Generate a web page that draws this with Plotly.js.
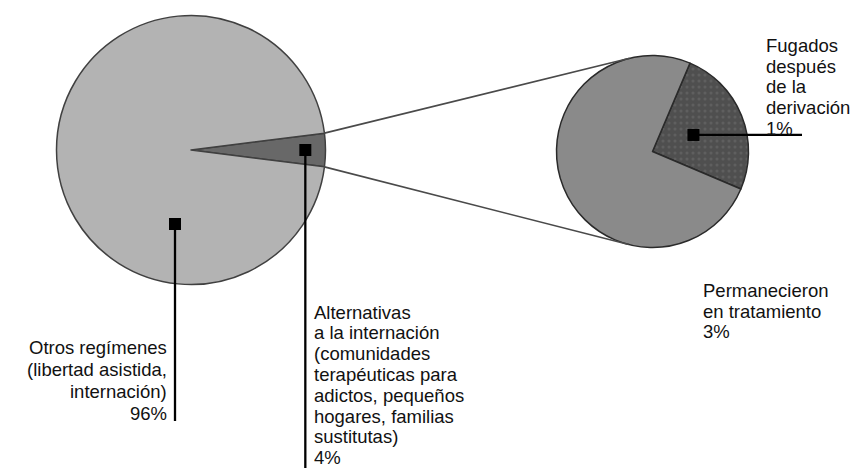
<!DOCTYPE html>
<html>
<head>
<meta charset="utf-8">
<script src="https://cdn.plot.ly/plotly-3.0.1.min.js"></script>
<style>html,body{margin:0;padding:0;background:#fff;}#chart{width:861px;height:468px;}</style>
</head>
<body>
<div id="chart"></div>
<script>
// ---- data ----
const mainLabels = ['Alternativas a la internación', 'Otros regímenes'];
const mainValues = [4, 96];
const detailLabels = ['Fugados después de la derivación', 'Permanecieron en tratamiento'];
const detailValues = [1, 3];

const textOtros = ['Otros regímenes', '(libertad asistida,', 'internación)'];
const textAlternativas = ['Alternativas', 'a la internación', '(comunidades', 'terapéuticas para', 'adictos, pequeños', 'hogares, familias', 'sustitutas)'];
const textFugados = ['Fugados', 'después', 'de la', 'derivación'];
const textPermanecieron = ['Permanecieron', 'en tratamiento'];

// ---- layout geometry (pixels) ----
const W = 861, H = 468;
const leftPie = {cx: 191, cy: 150, r: 134.5};
const rightPie = {cx: 652.5, cy: 151.5, r: 96};
const FONT = {family: 'Liberation Sans, Arial, sans-serif', size: 18.5, color: '#111'};
const MID = 6.4; // baseline-to-middle offset for this font

function px(x) { return x / W; }
function py(y) { return 1 - y / H; }
function domainOf(p) {
  return {x: [px(p.cx - p.r), px(p.cx + p.r)], y: [py(p.cy + p.r), py(p.cy - p.r)]};
}
function polar(p, frac, angDeg) { // angDeg: math angle, ccw from 3 o'clock
  const a = angDeg * Math.PI / 180;
  return [p.cx + frac * p.r * Math.cos(a), p.cy - frac * p.r * Math.sin(a)];
}

const mainTotal = mainValues.reduce((a, b) => a + b, 0);
const detailTotal = detailValues.reduce((a, b) => a + b, 0);
const smallSpan = mainValues[0] / mainTotal * 360;
const mainRotation = 90 - smallSpan / 2;        // small slice centred at 3 o'clock
const detailRotation = 23;
const fugSpan = detailValues[0] / detailTotal * 360;

const traces = [
  {
    type: 'pie', values: mainValues, labels: mainLabels, sort: false,
    direction: 'clockwise', rotation: mainRotation,
    domain: domainOf(leftPie), textinfo: 'none', hoverinfo: 'none', showlegend: false,
    marker: {colors: ['#686868', '#b3b3b3'], line: {color: '#404040', width: 1.5}}
  },
  {
    type: 'pie', values: detailValues, labels: detailLabels, sort: false,
    direction: 'clockwise', rotation: detailRotation,
    domain: domainOf(rightPie), textinfo: 'none', hoverinfo: 'none', showlegend: false,
    marker: {colors: ['#4f4f4f', '#8a8a8a'], line: {color: '#2a2a2a', width: 1.5},
      pattern: {shape: ['.', ''], bgcolor: ['#4f4f4f', '#8a8a8a'], fgcolor: ['#707070', '#8a8a8a'],
        fillmode: 'overlay', size: 6, solidity: 0.2}}
  }
];

// connector (tangent) lines from the small slice edge to the detail pie
function tangent(P, C, r, sign) {
  const dx = C.cx - P[0], dy = C.cy - P[1];
  const d = Math.hypot(dx, dy);
  const base = Math.atan2(dy, dx);
  const off = Math.asin(r / d);
  const ang = base + sign * off;
  const L = Math.sqrt(d * d - r * r);
  return [P[0] + L * Math.cos(ang), P[1] + L * Math.sin(ang)];
}
const upEdge = polar(leftPie, 1, smallSpan / 2);
const lowEdge = polar(leftPie, 1, -smallSpan / 2);
const upT = tangent(upEdge, rightPie, rightPie.r, -1);
const lowT = tangent(lowEdge, rightPie, rightPie.r, 1);

const shapes = [];
function seg(a, b, color, width) {
  shapes.push({type: 'line', xref: 'paper', yref: 'paper', x0: px(a[0]), y0: py(a[1]), x1: px(b[0]), y1: py(b[1]),
    line: {color: color, width: width}});
}
function square(c, s) {
  shapes.push({type: 'rect', xref: 'paper', yref: 'paper', x0: px(c[0] - s / 2), x1: px(c[0] + s / 2),
    y0: py(c[1] + s / 2), y1: py(c[1] - s / 2), fillcolor: '#000', line: {width: 0}});
}
seg(upEdge, upT, '#4a4a4a', 1.6);
seg(lowEdge, lowT, '#4a4a4a', 1.6);

// callouts
const anchorBig = [175, 224];
const anchorSmall = polar(leftPie, 0.85, 0);
const anchorFug = polar(rightPie, 0.46, 90 - detailRotation - fugSpan / 2);
seg(anchorBig, [anchorBig[0], 421], '#000', 2.3);
seg(anchorSmall, [anchorSmall[0], H + 2], '#000', 2.3);
seg(anchorFug, [802, anchorFug[1]], '#000', 2.3);
square(anchorBig, 12);
square(anchorSmall, 12);
square(anchorFug, 12);

const annotations = [];
function block(lines, x, firstBase, step, align) {
  lines.forEach((t, i) => {
    annotations.push({
      text: t, xref: 'paper', yref: 'paper', showarrow: false, borderpad: 0,
      x: px(x), y: py(firstBase + i * step - MID),
      xanchor: align, yanchor: 'middle', align: align, font: FONT
    });
  });
}
block(textOtros.concat([mainValues[1] + '%']), 168, 353.5, 22, 'right');
block(textAlternativas.concat([mainValues[0] + '%']), 313, 318.5, 20.8, 'left');
block(textFugados.concat([detailValues[0] + '%']), 765, 51.7, 20.8, 'left');
block(textPermanecieron.concat([detailValues[1] + '%']), 702, 296.7, 20.8, 'left');

const layout = {
  width: W, height: H, margin: {l: 0, r: 0, t: 0, b: 0},
  paper_bgcolor: '#fff', plot_bgcolor: '#fff',
  showlegend: false, shapes: shapes, annotations: annotations
};
Plotly.newPlot('chart', traces, layout, {displayModeBar: false, staticPlot: true});
</script>
</body>
</html>
